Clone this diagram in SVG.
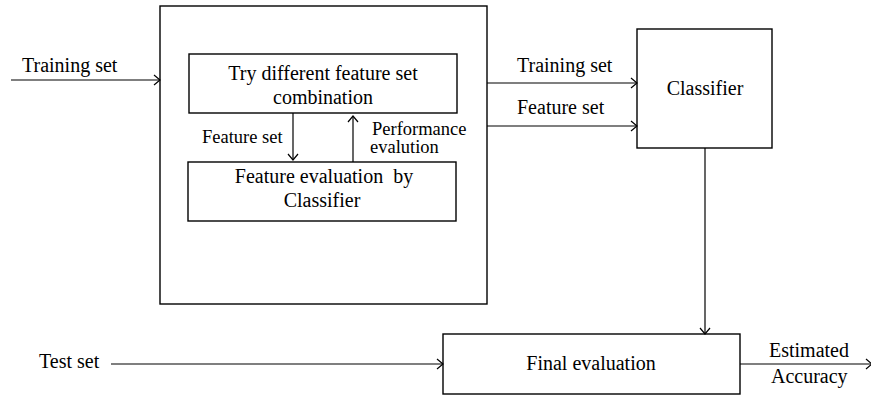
<svg xmlns="http://www.w3.org/2000/svg" width="871" height="396" viewBox="0 0 871 396">
  <style>
    text { font-family: Liberation Serif, serif; fill: #000; }
    .t20 { font-size: 20px; }
    .t18 { font-size: 18.5px; }
    .box { fill: #fff; stroke: #000; stroke-width: 1.4; }
    .wire { fill: none; stroke: #000; stroke-width: 1.2; }
  </style>
  <defs>
    <marker id="arr" viewBox="0 0 10 12" refX="9" refY="6" markerWidth="10" markerHeight="12" markerUnits="userSpaceOnUse" orient="auto">
      <path d="M3,1 L9,6 L3,11" fill="none" stroke="#000" stroke-width="1.2"/>
    </marker>
  </defs>
  <rect width="871" height="396" fill="#fff"/>

  <g id="selection-stage">
    <rect class="box" x="160" y="6" width="327" height="298"/>
  </g>

  <g id="try-combination">
    <rect class="box" x="189" y="54" width="268" height="59"/>
    <text class="t20" font-family="Liberation Serif" x="323" y="80" text-anchor="middle">Try different feature set</text>
    <text class="t20" font-family="Liberation Serif" x="323" y="104" text-anchor="middle">combination</text>
  </g>

  <g id="feature-evaluation">
    <rect class="box" x="188" y="162" width="268" height="59"/>
    <text class="t20" font-family="Liberation Serif" x="324" y="183" text-anchor="middle" xml:space="preserve">Feature evaluation  by</text>
    <text class="t20" font-family="Liberation Serif" x="322" y="207" text-anchor="middle">Classifier</text>
  </g>

  <g id="classifier">
    <rect class="box" x="637" y="29" width="135" height="119"/>
    <text class="t20" font-family="Liberation Serif" x="705" y="95" text-anchor="middle">Classifier</text>
  </g>

  <g id="final-evaluation">
    <rect class="box" x="443" y="334" width="297" height="60"/>
    <text class="t20" font-family="Liberation Serif" x="591" y="370" text-anchor="middle">Final evaluation</text>
  </g>

  <g id="connectors">
    <line class="wire" x1="11" y1="80" x2="160" y2="80" marker-end="url(#arr)"/>
    <line class="wire" x1="293" y1="113" x2="293" y2="160" marker-end="url(#arr)"/>
    <line class="wire" x1="353" y1="162" x2="353" y2="116" marker-end="url(#arr)"/>
    <line class="wire" x1="487" y1="83" x2="637" y2="83" marker-end="url(#arr)"/>
    <line class="wire" x1="487" y1="126" x2="637" y2="126" marker-end="url(#arr)"/>
    <line class="wire" x1="705" y1="148" x2="705" y2="334" marker-end="url(#arr)"/>
    <line class="wire" x1="111" y1="364" x2="443" y2="364" marker-end="url(#arr)"/>
    <line class="wire" x1="740" y1="364" x2="872" y2="364" marker-end="url(#arr)"/>
  </g>

  <g id="labels">
    <text class="t20" font-family="Liberation Serif" x="22" y="72">Training set</text>
    <text class="t18" font-family="Liberation Serif" x="202" y="143">Feature set</text>
    <text class="t18" font-family="Liberation Serif" x="372" y="135">Performance</text>
    <text class="t18" font-family="Liberation Serif" x="370" y="153">evalution</text>
    <text class="t20" font-family="Liberation Serif" x="517" y="72">Training set</text>
    <text class="t20" font-family="Liberation Serif" x="517" y="114">Feature set</text>
    <text class="t20" font-family="Liberation Serif" x="39" y="368">Test set</text>
    <text class="t20" font-family="Liberation Serif" x="769" y="357">Estimated</text>
    <text class="t20" font-family="Liberation Serif" x="771" y="383">Accuracy</text>
  </g>
</svg>
